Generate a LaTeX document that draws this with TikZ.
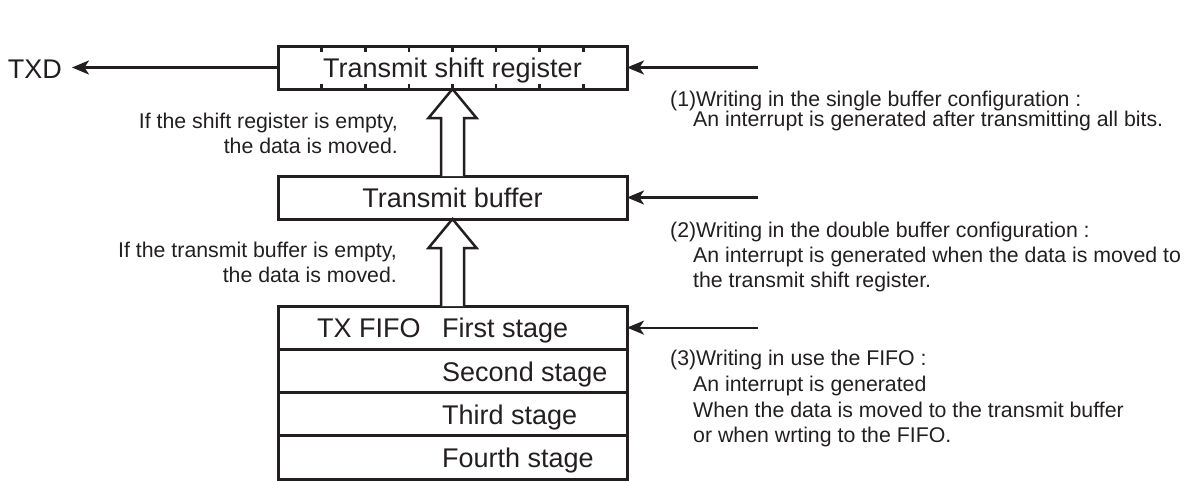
\documentclass[tikz,border=0pt]{standalone}
\usepackage{fontspec}
\setmainfont{Liberation Sans}
\usetikzlibrary{arrows.meta,calc}
\definecolor{ink}{HTML}{231F20}
\tikzset{
  box/.style={draw=ink, line width=3pt, outer sep=0pt, inner sep=0pt, minimum width=349pt},
  big/.style={font=\fontsize{27}{30}\selectfont, text=ink, inner sep=0pt},
  small/.style={font=\fontsize{21.3}{23}\selectfont, text=ink, inner sep=0pt},
  wire/.style={draw=ink, line width=2.3pt, -{Stealth[length=17pt,width=14pt,inset=4.5pt]}},
  hollow/.style={draw=ink, line width=2.5pt, fill=white, line join=miter},
  tickmark/.style={draw=ink, line width=2.6pt},
}
\begin{document}
\begin{tikzpicture}[x=1pt,y=-1pt]
\useasboundingbox (0,0) rectangle (1194,480);
% boxes
\node[box, minimum height=43pt, big, text height=19.3pt, text depth=0pt] (sr) at (452.5,67.5) {Transmit shift register};
\node[box, minimum height=43pt, big, text height=19.3pt, text depth=0pt] (tb) at (452.5,197.5) {Transmit buffer};
\node[box, minimum height=43.3pt] (f1) at (452.5,327.65) {};
\node[box, minimum height=43.3pt] (f2) at (452.5,370.95) {};
\node[box, minimum height=43.3pt] (f3) at (452.5,414.25) {};
\node[box, minimum height=43.3pt] (f4) at (452.5,457.55) {};
% shift register ticks
\foreach \k in {1,...,7}{
  \draw[tickmark] ($(sr.north west)!\k/8!(sr.north east)$) -- ++(0,5.5);
  \draw[tickmark] ($(sr.south west)!\k/8!(sr.south east)$) -- ++(0,-5.5);
}
% FIFO texts
\node[big, anchor=base west] (fifo) at (317,337.5) {TX FIFO};
\node[big, anchor=base west] (s1t) at (442,337.5) {First stage};
\node[big, anchor=base west] (s2t) at (442,381) {Second stage};
\node[big, anchor=base west] (s3t) at (442,424) {Third stage};
\node[big, anchor=base west] (s4t) at (442,467.5) {Fourth stage};
% TXD
\node[big, anchor=base east] (txd) at (62,78.5) {TXD};
\draw[wire, shorten >=10pt] (sr.west) -- (sr.west -| txd.east);
% inputs from the right
\coordinate (in1) at (758,67.5);
\coordinate (in2) at (758,197.5);
\coordinate (in3) at (758,327.65);
\draw[wire] (in1) -- (in1 -| sr.east);
\draw[wire] (in2) -- (in2 -| tb.east);
\draw[wire] (in3) -- (in3 -| f1.east);
% hollow transfer arrows
\coordinate (t1) at (sr.south); \coordinate (b1) at (tb.north);
\coordinate (t2) at (tb.south); \coordinate (b2) at (f1.north);
\draw[hollow] ($(b1)+(-11.5,0)$) -- ($(t1)+(-11.5,29)$) -- ($(t1)+(-24,29)$) -- (t1) -- ($(t1)+(24,29)$) -- ($(t1)+(11.5,29)$) -- ($(b1)+(11.5,0)$);
\draw[hollow] ($(b2)+(-11.5,0)$) -- ($(t2)+(-11.5,29)$) -- ($(t2)+(-24,29)$) -- (t2) -- ($(t2)+(24,29)$) -- ($(t2)+(11.5,29)$) -- ($(b2)+(11.5,0)$);
% left notes
\node[small, anchor=base east] (l1a) at (398,128) {If the shift register is empty,};
\node[small, anchor=base east] (l1b) at (398,153) {the data is moved.};
\node[small, anchor=base east] (l2a) at (397,257.5) {If the transmit buffer is empty,};
\node[small, anchor=base east] (l2b) at (397,282.5) {the data is moved.};
% right notes
\node[small, anchor=base west] (r1a) at (670,106) {(1)Writing in the single buffer configuration :};
\node[small, anchor=base west] (r1b) at (693,126.5) {An interrupt is generated after transmitting all bits.};
\node[small, anchor=base west] (r2a) at (670,237) {(2)Writing in the double buffer configuration :};
\node[small, anchor=base west] (r2b) at (693,262) {An interrupt is generated when the data is moved to};
\node[small, anchor=base west] (r2c) at (693,287) {the transmit shift register.};
\node[small, anchor=base west] (r3a) at (670,365.5) {(3)Writing in use the FIFO :};
\node[small, anchor=base west] (r3b) at (693,391.5) {An interrupt is generated};
\node[small, anchor=base west] (r3c) at (693,417) {When the data is moved to the transmit buffer};
\node[small, anchor=base west] (r3d) at (693,442.5) {or when wrting to the FIFO.};
\end{tikzpicture}
\end{document}
